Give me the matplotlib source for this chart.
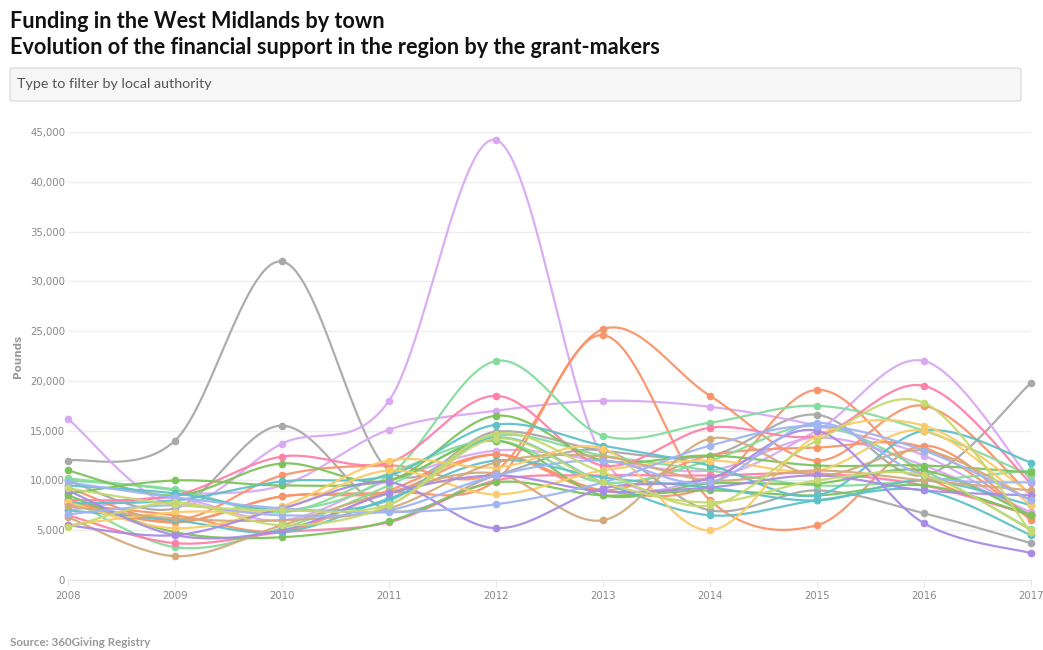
import numpy as np
import matplotlib
matplotlib.use("Agg")
import matplotlib.pyplot as plt
from matplotlib.patches import FancyBboxPatch

years = [2008, 2009, 2010, 2011, 2012, 2013, 2014, 2015, 2016, 2017]

# Funding per local authority (pounds)
gray_a     = [12000, 14000, 32000, 11000, 14900, 13000, 12500, 16600, 10500, 19800]
gray_b     = [10000, 7200, 15500, 7000, 10500, 13000, 7000, 9000, 6700, 3700]
lilac_a    = [16200, 7500, 13700, 18000, 44200, 12300, 10300, 15000, 22000, 10000]
lilac_b    = [7000, 8500, 9500, 15100, 17000, 18000, 17400, 15500, 12500, 6500]
lilac_c    = [7300, 8200, 6000, 10000, 13000, 12000, 11000, 14300, 11500, 6800]
orange_a   = [9300, 6000, 10500, 11500, 11000, 25200, 18500, 12000, 17500, 8500]
orange_b   = [8000, 5800, 8400, 8800, 10000, 24600, 8000, 5500, 13500, 6000]
orange_c   = [7600, 6500, 4900, 9000, 12600, 9000, 9500, 19100, 10500, 6500]
orange_d   = [7800, 5800, 8400, 8800, 12600, 9000, 12500, 13300, 13300, 6200]
mint_a     = [10200, 9000, 7000, 10500, 22000, 14500, 15800, 17500, 15000, 10500]
mint_b     = [10000, 9100, 6800, 10700, 14000, 9800, 12000, 15500, 11000, 5100]
mint_c     = [8200, 3300, 5200, 9500, 14500, 12500, 11000, 9500, 10000, 11000]
pink_a     = [8000, 8500, 12400, 11800, 18500, 11500, 15300, 14500, 19500, 9700]
pink_b     = [6500, 3700, 4800, 5800, 10000, 10500, 10500, 10700, 9500, 6500]
green_a    = [11000, 8500, 11700, 10000, 16500, 12000, 12500, 11500, 11500, 10800]
green_b    = [8700, 10000, 9500, 10000, 14000, 8500, 9700, 9700, 11000, 6500]
green_c    = [8500, 4800, 4300, 5900, 9800, 8500, 9000, 8500, 9500, 6500]
teal_a     = [7700, 8000, 9900, 10500, 15600, 13500, 11500, 8500, 15000, 11800]
teal_b     = [9500, 8700, 7000, 8000, 14300, 9800, 6500, 8000, 9000, 4500]
teal_c     = [7000, 6000, 4800, 8200, 12000, 10300, 9300, 8000, 10000, 7500]
yellow_a   = [7800, 5200, 7400, 12000, 11300, 13200, 5000, 14500, 15500, 8700]
yellow_b   = [5500, 6800, 7200, 11000, 8600, 11000, 12000, 11000, 15000, 7500]
tan_a      = [6300, 2400, 5500, 8800, 10700, 6000, 14200, 10500, 13000, 8000]
tan_b      = [7400, 6200, 6000, 7200, 11800, 12400, 10000, 11000, 10000, 9000]
purple_a   = [5500, 4500, 7200, 9800, 5200, 9200, 10200, 15000, 5700, 2700]
purple_b   = [9000, 4500, 5000, 8700, 10500, 8900, 9300, 10500, 9000, 8500]
peri_a     = [9800, 8300, 7200, 6800, 7600, 9800, 13500, 15500, 13000, 8000]
peri_b     = [6600, 7500, 6500, 7000, 10500, 12000, 9800, 15800, 10500, 9800]
ygreen_a   = [5300, 7800, 5500, 7500, 14700, 10800, 7500, 14000, 17800, 4800]
ygreen_b   = [9200, 7600, 7000, 7600, 14200, 9800, 7800, 10000, 10500, 5000]

series = [
    (gray_a, '#a9a9a9'), (gray_b, '#a9a9a9'),
    (lilac_a, '#d9a9f2'), (lilac_b, '#d9a9f2'), (lilac_c, '#d9a9f2'),
    (orange_a, '#f9946a'), (orange_b, '#f9946a'), (orange_c, '#f9946a'), (orange_d, '#f9946a'),
    (mint_a, '#86dc9c'), (mint_b, '#86dc9c'), (mint_c, '#86dc9c'),
    (pink_a, '#ff80a8'), (pink_b, '#ff80a8'),
    (green_a, '#7dc35c'), (green_b, '#7dc35c'), (green_c, '#7dc35c'),
    (teal_a, '#5fc1c8'), (teal_b, '#5fc1c8'), (teal_c, '#5fc1c8'),
    (yellow_a, '#fbcb68'), (yellow_b, '#fbcb68'),
    (tan_a, '#d3aa7c'), (tan_b, '#d3aa7c'),
    (purple_a, '#a98be6'), (purple_b, '#a98be6'),
    (peri_a, '#9fb5f3'), (peri_b, '#9fb5f3'),
    (ygreen_a, '#c8d870'), (ygreen_b, '#c8d870'),
]

def catmull_rom(x, y, n=30):
    x = np.asarray(x, float); y = np.asarray(y, float)
    px = np.concatenate([[x[0]], x, [x[-1]]])
    py = np.concatenate([[y[0]], y, [y[-1]]])
    xs, ys = [], []
    t = np.linspace(0, 1, n)
    for i in range(1, len(px) - 2):
        for arr, out in ((px, xs), (py, ys)):
            p0, p1, p2, p3 = arr[i-1], arr[i], arr[i+1], arr[i+2]
            out.append(0.5 * ((2*p1) + (-p0 + p2)*t + (2*p0 - 5*p1 + 4*p2 - p3)*t**2
                              + (-p0 + 3*p1 - 3*p2 + p3)*t**3))
    return np.concatenate(xs), np.concatenate(ys)

fig = plt.figure(figsize=(10.43, 6.5), dpi=100)
fig.patch.set_facecolor('white')

fig.text(10/1043, 1 - 22/650, "Funding in the West Midlands by town", fontsize=15.6,
         fontweight='bold', family='Lato', va='center', ha='left', color='#111111')
fig.text(10/1043, 1 - 47/650, "Evolution of the financial support in the region by the grant-makers",
         fontsize=15.6, fontweight='bold', family='Lato', va='center', ha='left', color='#111111')

box = FancyBboxPatch((10/1043, 1 - 101/650), 1011/1043, 33/650,
                     boxstyle="round,pad=0,rounding_size=0.003",
                     transform=fig.transFigure, facecolor='#f6f6f6', edgecolor='#dddddd',
                     linewidth=1)
fig.patches.append(box)
fig.text(17/1043, 1 - 84/650, "Type to filter by local authority", fontsize=10.3,
         family='Lato', va='center', ha='left', color='#555555')

ax = fig.add_axes([68/1043, (650-580)/650, (1031-68)/1043, (580-132)/650])
ax.set_xlim(2008, 2017)
ax.set_ylim(0, 45000)

for vals, col in series:
    sx, sy = catmull_rom(years, vals)
    ax.plot(sx, sy, color=col, lw=1.6, alpha=0.95, solid_capstyle='round', zorder=2, clip_on=False)
    ax.plot(years, vals, 'o', color=col, ms=4.5, zorder=3, clip_on=False)

yt = list(range(0, 45001, 5000))
ax.set_yticks(yt)
ax.set_yticklabels([f"{v:,}" for v in yt])
ax.set_xticks(years)
ax.set_xticklabels([str(y) for y in years])
ax.grid(axis='y', color='#eeeeee', lw=1)
ax.set_axisbelow(True)
for s in ['top', 'right', 'left']:
    ax.spines[s].set_visible(False)
ax.spines['bottom'].set_color('#e6e6e6')
ax.tick_params(axis='y', length=0, labelsize=7.3, labelcolor='#888888', pad=2)
ax.tick_params(axis='x', length=5, color='#e6e6e6', labelsize=7.3, labelcolor='#888888', pad=3)
ax.set_ylabel("Pounds", fontsize=7.5, fontweight='bold', color='#999999', labelpad=8)
ax.yaxis.set_label_coords(-45/963, 0.5)

fig.text(10/1043, 1 - 642/650, "Source: 360Giving Registry", fontsize=8.4, fontweight='bold',
         family='Lato', va='center', ha='left', color='#999999')

fig.savefig("out.png", dpi=100, facecolor='white')
